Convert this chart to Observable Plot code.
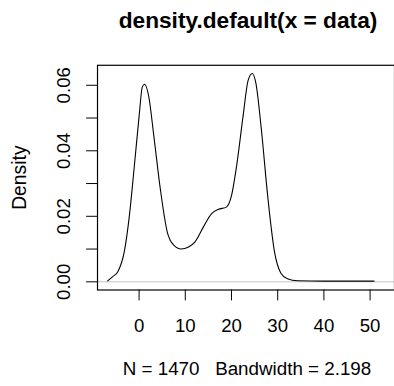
<!DOCTYPE html>
<html>
<head>
<meta charset="utf-8">
<script src="https://cdn.jsdelivr.net/npm/d3@7"></script>
<script src="https://cdn.jsdelivr.net/npm/@observablehq/plot@0.6"></script>
<style>
  html, body { margin: 0; padding: 0; background: #fff; }
  body { width: 394px; height: 386px; overflow: hidden; font-family: "Liberation Sans", Arial, sans-serif; color: #000; }
  #title { height: 44px; box-sizing: border-box; padding-top: 9px; padding-left: 98px; width: 398px;
           text-align: center; font-weight: bold; font-size: 22.7px; line-height: 22px; white-space: nowrap; }
  #caption { height: 42px; box-sizing: border-box; padding-top: 19px; padding-left: 98px; width: 396px;
             text-align: center; font-size: 18.8px; line-height: 18px; white-space: pre; }
  #chart svg { display: block; }
</style>
</head>
<body>
<div id="title"></div>
<div id="chart"></div>
<div id="caption"></div>
<script>
const titleText = "density.default(x = data)";
const captionText = "N = 1470   Bandwidth = 2.198";
const yLabel = "Density";

// density curve
const xs = [-6.8, -5.7, -4.6, -3.2, -2.1, -1.1, 0, 0.7, 1.2, 2.1, 3.2, 4.6, 6.1, 7.5, 9.1, 10.7, 12.1, 13.9, 15.7, 17.1, 18.9, 20.0, 21.1, 22.5, 23.6, 24.5, 25.3, 26.4, 27.9, 29.3, 30.7, 32.1, 34.3, 40, 45, 50.85];
const ys = [0.0003, 0.0016, 0.0031, 0.0092, 0.0202, 0.0343, 0.0505, 0.0595, 0.0603, 0.0565, 0.0444, 0.0283, 0.0152, 0.0112, 0.0100, 0.0106, 0.0122, 0.0167, 0.0208, 0.0221, 0.0228, 0.0263, 0.0353, 0.0505, 0.0615, 0.0636, 0.0605, 0.0474, 0.0253, 0.0092, 0.0026, 0.0009, 0.0003, 0.0002, 0.0002, 0.0002];

const xTicks = [0, 10, 20, 30, 40, 50];
const yTicks = [0, 0.01, 0.02, 0.03, 0.04, 0.05, 0.06];
const yTickLabels = [0, 0.02, 0.04, 0.06];

const data = xs.map((x, i) => ({x, y: ys[i]}));

document.getElementById("title").textContent = titleText;
document.getElementById("caption").textContent = captionText;

const chart = Plot.plot({
  width: 398,
  height: 300,
  marginLeft: 98,
  marginRight: 0,
  marginTop: 21,
  marginBottom: 52,
  style: {fontFamily: "'Liberation Sans', Arial, sans-serif", fontSize: "18.8px", color: "#000", background: "#fff"},
  x: {domain: [-9.0, 55.28]},
  y: {domain: [-0.0025, 0.0661]},
  marks: [
    Plot.ruleY([0], {stroke: "#c4c4c4", strokeWidth: 1}),
    Plot.line(data, {x: "x", y: "y", stroke: "#000", strokeWidth: 1.1, curve: "monotone-x"}),
    Plot.frame({stroke: "#000", strokeWidth: 1.2}),
    Plot.axisX({ticks: xTicks, tickSize: 11, tickPadding: 18, tickFormat: d => String(d), label: null, stroke: "#000"}),
    Plot.axisY({ticks: yTicks, tickSize: 11, tickFormat: () => "", label: null, stroke: "#000"}),
    Plot.text(yTickLabels, {y: d => d, frameAnchor: "left", dx: -34, rotate: -90, text: d => d.toFixed(2), fill: "#000", textAnchor: "middle", lineAnchor: "middle"}),
    Plot.text([yLabel], {frameAnchor: "left", dx: -78.5, rotate: -90, text: d => d, fill: "#000", textAnchor: "middle", lineAnchor: "middle", fontSize: 19.5})
  ]
});
document.getElementById("chart").appendChild(chart);
</script>
</body>
</html>
